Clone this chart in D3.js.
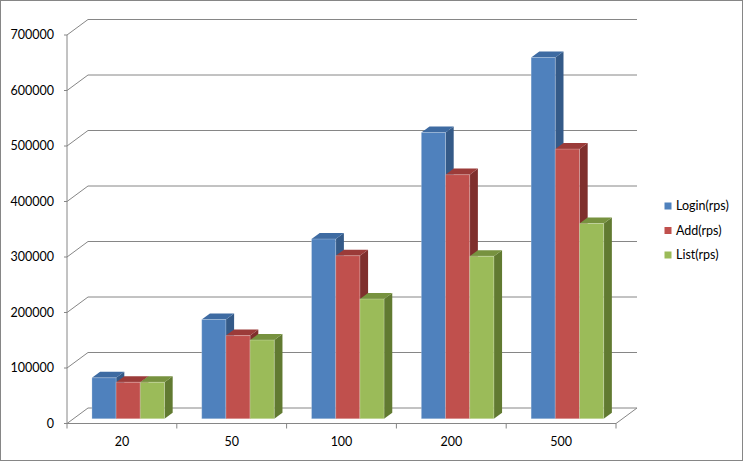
<!DOCTYPE html>
<html lang="en">
<head>
    <meta charset="UTF-8">
    <script src="https://d3js.org/d3.v7.min.js"></script>
    <title>rps chart</title>
    <style>
        body { margin: 0; background: #fff; }
        svg text { font-family: Lato, "Open Sans", sans-serif; font-size: 12.5px; fill: #000; }
    </style>
</head>
<body>
    <svg width="743" height="461" id="chart"></svg>
    <script>
        // data
        const categories = ["20", "50", "100", "200", "500"];
        const seriesNames = ["Login(rps)", "Add(rps)", "List(rps)"];
        const login = [74000, 179000, 324000, 516000, 651000];
        const add = [66000, 150000, 294000, 440000, 486000];
        const list = [66000, 142000, 216000, 293000, 352000];
        const yTicks = [0, 100000, 200000, 300000, 400000, 500000, 600000, 700000];

        const seriesValues = [login, add, list];
        // front, top, side colours for each series
        const colors = [
            { front: "#4f81bd", top: "#3e6ba2", side: "#345a88" },
            { front: "#c0504d", top: "#9b3b39", side: "#7f2f2d" },
            { front: "#9bbb59", top: "#77923f", side: "#617a31" }
        ];

        const svg = d3.select("#chart");

        // outer border
        svg.append("rect")
            .attr("x", 0.5).attr("y", 0.5)
            .attr("width", 742).attr("height", 460)
            .style("fill", "#fff")
            .style("stroke", "#868686");

        // depth of the 3d box
        const DX = 21, DY = 15.5;
        const z0 = 0.3, z1 = 0.69;

        const x = d3.scaleBand()
            .domain(categories)
            .range([67, 616]);

        const xSub = d3.scaleBand()
            .domain(seriesNames)
            .range([0, x.bandwidth()])
            .paddingOuter(0.77);

        const y = d3.scaleLinear()
            .domain([0, 700000])
            .range([423.5, 35]);

        // projection of a point (px, value, depth)
        function P(px, v, z) {
            return [px + z * DX, y(v) - z * DY];
        }
        const line = d3.line();

        const left = x.range()[0], right = x.range()[1];
        const gridColor = "#868686";

        // back wall gridlines with the left side diagonals
        yTicks.forEach(v => {
            svg.append("path")
                .attr("d", line([P(left - 3, v, 0), P(left, v, 0), P(left, v, 1), P(right, v, 1)]))
                .style("fill", "none")
                .style("stroke", gridColor);
        });

        // floor right diagonal and front edge
        svg.append("path")
            .attr("d", line([P(left, 0, 0), P(right, 0, 0), P(right, 0, 1)]))
            .style("fill", "none")
            .style("stroke", gridColor);

        // value axis
        svg.append("line")
            .attr("x1", left).attr("x2", left)
            .attr("y1", y(700000)).attr("y2", y(0))
            .style("stroke", gridColor);

        // category ticks
        categories.concat([null]).forEach((c, i) => {
            const px = c === null ? right : x(c);
            svg.append("line")
                .attr("x1", px).attr("x2", px)
                .attr("y1", y(0)).attr("y2", y(0) + 5)
                .style("stroke", gridColor);
        });

        // value labels
        yTicks.forEach(v => {
            svg.append("text")
                .attr("x", 54)
                .attr("y", y(v))
                .attr("dy", "0.35em")
                .attr("text-anchor", "end")
                .text(v);
        });

        // category labels
        categories.forEach(c => {
            svg.append("text")
                .attr("x", x(c) + x.bandwidth() / 2)
                .attr("y", 446)
                .attr("text-anchor", "middle")
                .text(c);
        });

        // bars, drawn left to right so the next bar hides the side face
        categories.forEach((c, ci) => {
            seriesNames.forEach((s, si) => {
                const v = seriesValues[si][ci];
                const x0 = x(c) + xSub(s);
                const x1 = x0 + xSub.bandwidth();
                const col = colors[si];

                svg.append("path")
                    .attr("d", line([P(x1, v, z0), P(x1, v, z1), P(x1, 0, z1), P(x1, 0, z0)]) + "Z")
                    .style("fill", col.side);

                svg.append("path")
                    .attr("d", line([P(x0, v, z0), P(x1, v, z0), P(x1, v, z1), P(x0, v, z1)]) + "Z")
                    .style("fill", col.top);

                svg.append("path")
                    .attr("d", line([P(x0, v, z0), P(x1, v, z0), P(x1, 0, z0), P(x0, 0, z0)]) + "Z")
                    .style("fill", col.front)
                    .style("stroke", "rgba(255,255,255,0.3)")
                    .style("stroke-width", 0.8);
            });
        });

        // legend
        const legendY = [206, 230.5, 255];
        seriesNames.forEach((s, i) => {
            svg.append("rect")
                .attr("x", 664.5)
                .attr("y", legendY[i] - 3.5)
                .attr("width", 7)
                .attr("height", 7)
                .style("fill", colors[i].front);
            svg.append("text")
                .attr("x", 676)
                .attr("y", legendY[i])
                .attr("dy", "0.35em")
                .text(s);
        });
    </script>
</body>
</html>
